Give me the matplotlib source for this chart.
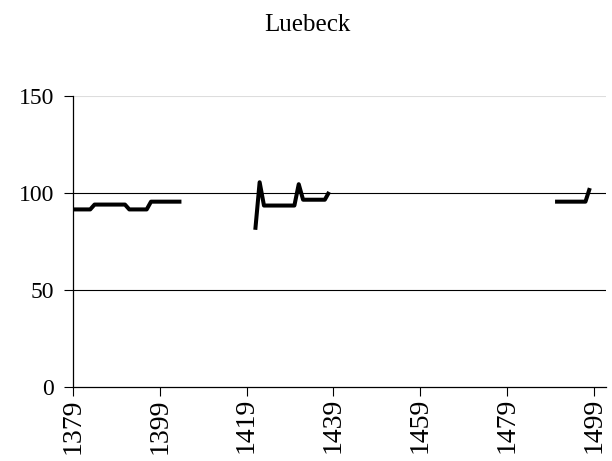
from matplotlib import pyplot as plt
import numpy as np

# yearly values (NaN = gap)
years_a = list(range(1379, 1405))
vals_a = [91.5] * 5 + [94] * 8 + [91.5] * 5 + [95.5] * 8
years_b = list(range(1421, 1439))
vals_b = [81, 105.5] + [93.5] * 8 + [104.5] + [96.5] * 6 + [100.5]
years_c = list(range(1490, 1499))
vals_c = [95.5] * 8 + [102.5]

tick_years = list(range(1379, 1500, 20))
y_ticks = [0, 50, 100, 150]

years = years_a + [1413] + years_b + [1460] + years_c
values = vals_a + [np.nan] + vals_b + [np.nan] + vals_c

plt.rcParams['font.family'] = ['Liberation Serif', 'DejaVu Serif']

fig = plt.figure(figsize=(6.12, 4.61), dpi=100)
ax = fig.add_axes([0.119, 0.1605, 0.871, 0.6315])

for y in y_ticks[1:]:
    ax.axhline(y, color='black' if y < 150 else '#dddddd', linewidth=0.8, zorder=1)

ax.plot(years, values, color='black', linewidth=2.9, solid_joinstyle='round',
        solid_capstyle='butt', zorder=3)

ax.set_xlim(1379, 1501.7)
ax.set_ylim(0, 150)
ax.set_xticks(tick_years)
ax.set_xticklabels([str(t) for t in tick_years], rotation=90, fontsize=20)
ax.set_yticks(y_ticks)
ax.set_yticklabels([str(t) for t in y_ticks], fontsize=17)
ax.tick_params(direction='out', length=6.5, width=0.8, color='black')
ax.tick_params(axis='x', pad=1.5)
ax.tick_params(axis='y', pad=7)

for side in ['top', 'right']:
    ax.spines[side].set_visible(False)
for side in ['left', 'bottom']:
    ax.spines[side].set_linewidth(0.9)

fig.text(0.503, 0.945, 'Luebeck', ha='center', va='center', fontsize=18)

fig.savefig('out.png', dpi=100)
